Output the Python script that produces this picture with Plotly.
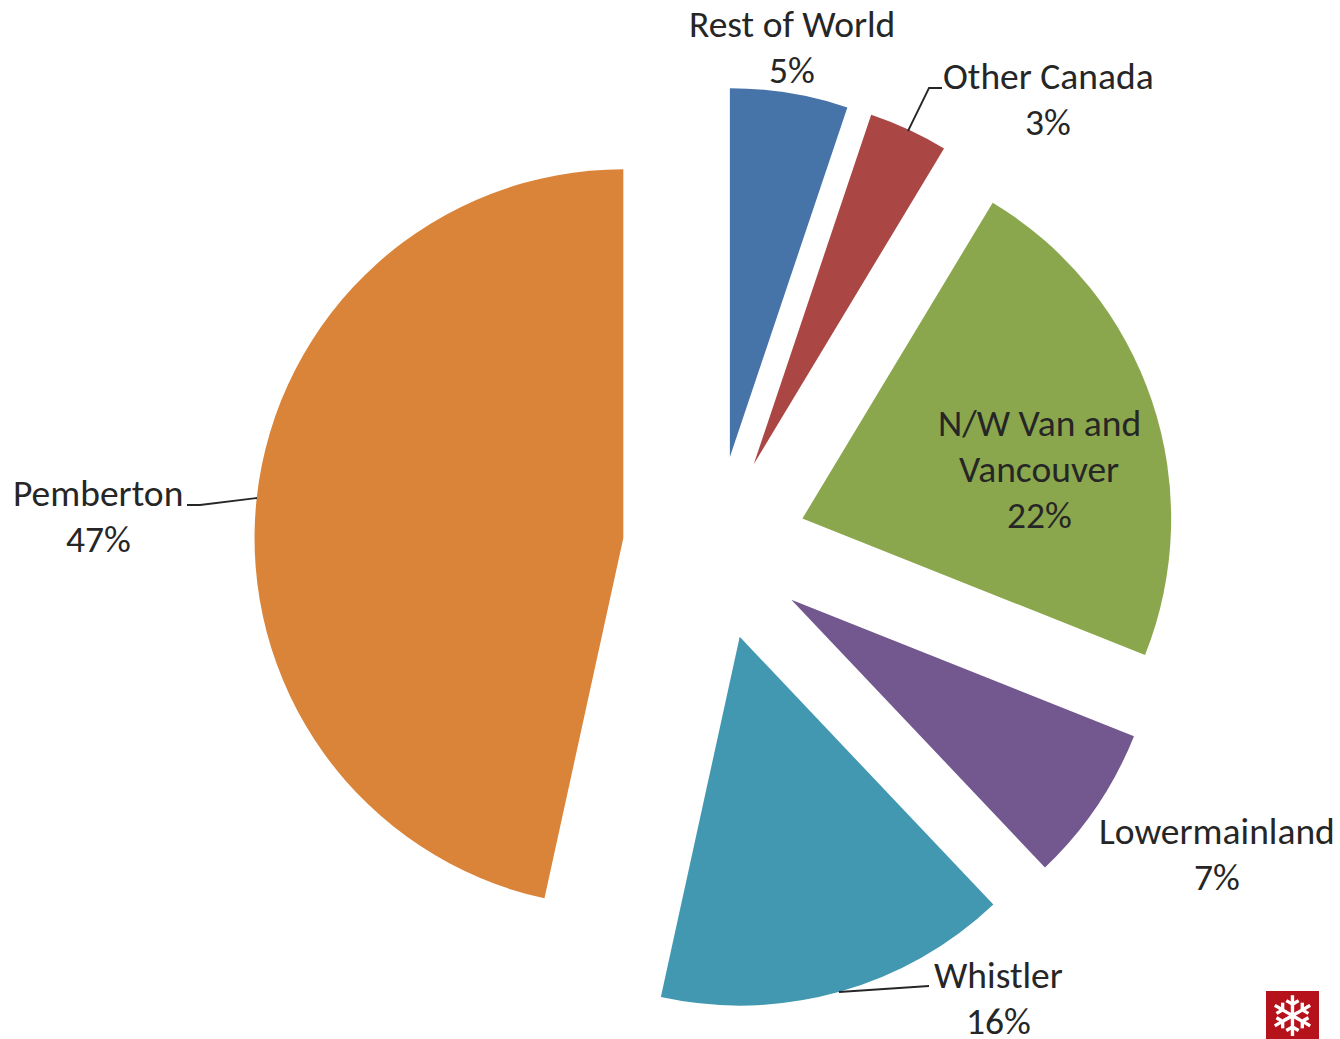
import plotly.graph_objects as go

W, H = 1340, 1039

regions = ['Rest of World', 'Other Canada', 'N/W Van and<br>Vancouver', 'Lowermainland', 'Whistler', 'Pemberton']
shares = [5.16, 3.47, 22.4, 6.9, 15.5, 46.57]
colors = ['#4674A8', '#AA4644', '#8BA74D', '#72588E', '#4298B0', '#DA843A']

# y of first line and x centre of each label in page pixels
label_x = [792, 1048, 1039, 1217, 998, 98]
label_y = [24, 76, 423, 831, 975, 493]
line_step = 46

# leader lines in page pixels
leaders = [
    [(908, 131), (929, 88), (942, 88)],
    [(257, 498), (200, 505), (187, 505)],
    [(839, 992), (929, 986)],
]


def px(x):
    return x / W


def py(y):
    return 1 - y / H


# pie centre and outer size
cx, cy, size = 715, 548, 922

fig = go.Figure(go.Pie(
    labels=regions,
    values=shares,
    sort=False,
    direction='clockwise',
    rotation=0,
    pull=0.25,
    marker=dict(colors=colors, line=dict(width=0)),
    textinfo='none',
    hoverinfo='label+percent',
    showlegend=False,
    domain=dict(x=[px(cx - size / 2), px(cx + size / 2)],
                y=[py(cy + size / 2), py(cy - size / 2)]),
))

for name, val, x, y in zip(regions, shares, label_x, label_y):
    lines = name.split('<br>') + [str(round(val)) + '%']
    for i, line in enumerate(lines):
        fig.add_annotation(
            x=px(x), y=py(y + i * line_step), xref='paper', yref='paper', showarrow=False,
            text=line, height=36,
            font=dict(family='Carlito, Lato, sans-serif', size=37.5, color='#262626'),
            xanchor='center', yanchor='middle', align='center',
        )

for pts in leaders:
    path = 'M ' + ' L '.join(str(px(x)) + ' ' + str(py(y)) for x, y in pts)
    fig.add_shape(type='path', xref='paper', yref='paper', path=path,
                  line=dict(color='#262626', width=1.8))

# snowflake logo
fig.add_shape(type='rect', xref='paper', yref='paper',
              x0=px(1266), x1=px(1319), y0=py(1039), y1=py(991),
              fillcolor='#B5121B', line=dict(width=0))
fig.add_annotation(x=px(1292.5), y=py(1016), xref='paper', yref='paper', showarrow=False,
                   xanchor='center', yanchor='middle', height=44,
                   text='❄', font=dict(family='DejaVu Sans', size=56, color='white'))

fig.update_layout(
    width=W, height=H,
    margin=dict(l=0, r=0, t=0, b=0),
    paper_bgcolor='white',
    plot_bgcolor='white',
)

# the page's default body margin would shift everything by 8px
fig.write_html('out.html', config=dict(displayModeBar=False),
               post_script="document.body.style.margin='0';")
